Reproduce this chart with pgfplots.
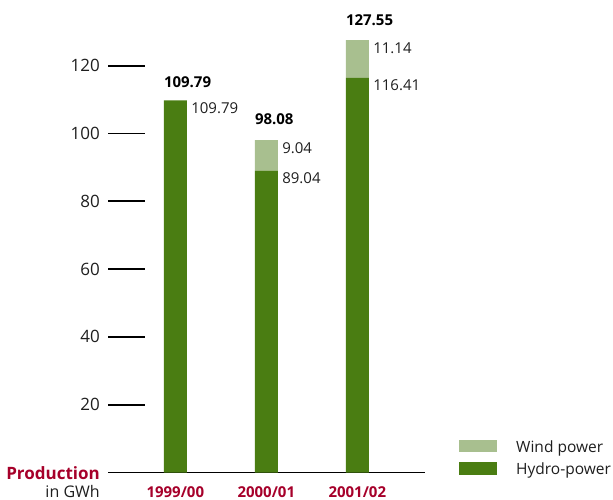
\documentclass[border=0pt]{standalone}
\usepackage{fontspec}
\setmainfont{Open Sans}
\usepackage{pgfplots}
\pgfplotsset{compat=1.18}
\definecolor{hydro}{RGB}{74,125,18}
\definecolor{wind}{RGB}{168,191,143}
\definecolor{prodred}{RGB}{166,0,42}
\definecolor{ink}{RGB}{30,30,30}
\tikzset{
  seglabel/.style={anchor=base west, inner sep=0pt, xshift=15.8bp, yshift=-13bp,
    font=\fontsize{15bp}{18bp}\selectfont, text=ink},
  totlabel/.style={anchor=base west, inner sep=0pt, xshift=-11.5bp,
    font=\fontsize{15bp}{18bp}\selectfont\bfseries, text=black},
}
\begin{document}
\begin{tikzpicture}
\begin{axis}[
  at={(0,0)}, anchor=south west,
  scale only axis, width=317bp, height=457.65bp,
  xmin=-0.7396, xmax=2.744, ymin=0, ymax=135,
  ybar stacked, bar width=23bp,
  axis x line=bottom, axis y line=left,
  x axis line style={-, line width=1.8bp, black},
  y axis line style={draw=none},
  xtick={0,1,2}, xticklabels={1999/00,2000/01,2001/02},
  xtick style={draw=none},
  xticklabel style={anchor=base, yshift=-24.5bp, inner sep=0pt,
    font=\fontsize{15bp}{18bp}\selectfont\bfseries, text=prodred},
  ytick={20,40,...,120},
  ytick style={line width=1.8bp, black},
  tick align=inside,
  major tick length=37bp,
  yticklabel style={anchor=east, inner sep=0pt, xshift=-8bp,
    font=\fontsize{17bp}{20bp}\selectfont, text=ink},
  /pgf/number format/assume math mode=true,
  clip=false,
  reverse legend,
  legend cell align=left,
  legend image code/.code={\fill[#1] (0bp,-4.1bp) rectangle (38bp,8.3bp);},
  legend style={draw=none, fill=none, inner sep=0pt, at={(1.1073,-0.0138)}, anchor=south west,
    nodes={inner sep=0pt, text height=12.4bp, text depth=4bp,
      font=\fontsize{15.5bp}{18bp}\selectfont, text=ink},
    row sep=5.6bp, column sep=19bp},
]
\addplot[fill=hydro, draw=none] coordinates {(0,109.79) (1,89.04) (2,116.41)};
\addplot[fill=wind, draw=none] coordinates {(0,0) (1,9.04) (2,11.14)};
\legend{Hydro-power, Wind power}

% segment values to the right of each bar
\node[seglabel] at (axis cs:0,109.79) {109.79};
\node[seglabel] at (axis cs:1,89.04) {89.04};
\node[seglabel] at (axis cs:1,98.08) {9.04};
\node[seglabel] at (axis cs:2,116.41) {116.41};
\node[seglabel] at (axis cs:2,127.55) {11.14};
% totals above each bar
\node[totlabel, yshift=13bp] at (axis cs:0,109.79) {109.79};
\node[totlabel, yshift=15.7bp] at (axis cs:1,98.08) {98.08};
\node[totlabel, yshift=15bp] at (axis cs:2,127.55) {127.55};
\end{axis}
\node[anchor=base east, inner sep=0pt, font=\fontsize{17bp}{20bp}\selectfont\bfseries, text=prodred]
  at (-8bp,-6.8bp) {Production};
\node[anchor=base east, inner sep=0pt, font=\fontsize{16bp}{19bp}\selectfont, text=ink]
  at (-8bp,-24.5bp) {in GWh};
\path (-108bp,-27.5bp) rectangle (505bp,472.5bp);
\end{tikzpicture}
\end{document}
